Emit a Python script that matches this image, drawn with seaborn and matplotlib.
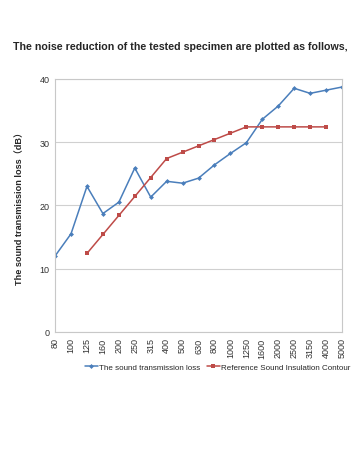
import numpy as np
import pandas as pd
import matplotlib
matplotlib.use("Agg")
import matplotlib.pyplot as plt
import seaborn as sns

# frequency bands (Hz) shown on the x axis
FREQS = ["80", "100", "125", "160", "200", "250", "315", "400", "500", "630",
         "800", "1000", "1250", "1600", "2000", "2500", "3150", "4000", "5000"]

# measured sound transmission loss (dB)
STL = [12.0, 15.5, 23.0, 18.7, 20.5, 25.9, 21.3, 23.8, 23.5, 24.3,
       26.4, 28.2, 29.9, 33.6, 35.7, 38.5, 37.7, 38.2, 38.7]

# shifted reference contour (dB), undefined at 80/100 Hz and 5000 Hz
REF = [np.nan, np.nan, 12.4, 15.4, 18.4, 21.4, 24.4, 27.4, 28.4, 29.4,
       30.4, 31.4, 32.4, 32.4, 32.4, 32.4, 32.4, 32.4, np.nan]

BLUE = "#4a7ebb"
RED = "#be4b48"

sns.set_style("white")
plt.rcParams["font.family"] = ["Liberation Sans", "Noto Sans CJK SC", "DejaVu Sans"]

df = pd.DataFrame({"pos": np.arange(len(FREQS)), "stl": STL, "ref": REF})

fig = plt.figure(figsize=(3.6, 4.56), dpi=100)
ax = fig.add_axes([0.153, 0.27, 0.797, 0.555])

sns.lineplot(data=df, x="pos", y="stl", ax=ax, color=BLUE, lw=1.1,
             marker="D", markersize=2.5, markeredgewidth=0,
             label="The sound transmission loss")
sns.lineplot(data=df.dropna(), x="pos", y="ref", ax=ax, color=RED, lw=1.1,
             marker="s", markersize=3.2, markeredgewidth=0,
             label="Reference Sound Insulation Contour")

ax.set_xlim(0, len(FREQS) - 1)
ax.set_ylim(0, 40)
ax.set_yticks([0, 10, 20, 30, 40])
ax.set_xticks(df["pos"])
ax.set_xticklabels(FREQS, rotation=90)
ax.tick_params(axis="both", labelsize=6.5, colors="#333333", length=0, pad=4)
ax.yaxis.grid(True, color="#d0d0d0", lw=0.8)
for s in ax.spines.values():
    s.set_color("#c8c8c8")
    s.set_linewidth(0.8)

ax.set_xlabel("")
ax.set_ylabel("The sound transmission loss（dB）", fontsize=6.6, fontweight="bold",
              labelpad=11)

ax.legend(loc="center", bbox_to_anchor=(0.605, 0.193), bbox_transform=fig.transFigure,
          ncol=2, frameon=False, fontsize=5.8, handlelength=1.6, handletextpad=0.2,
          columnspacing=0.8)

fig.text(0.5, 0.897, "The noise reduction of the tested specimen are plotted as follows,",
         ha="center", va="center", fontsize=7.7, fontweight="bold")

fig.savefig("out.png", dpi=100)
